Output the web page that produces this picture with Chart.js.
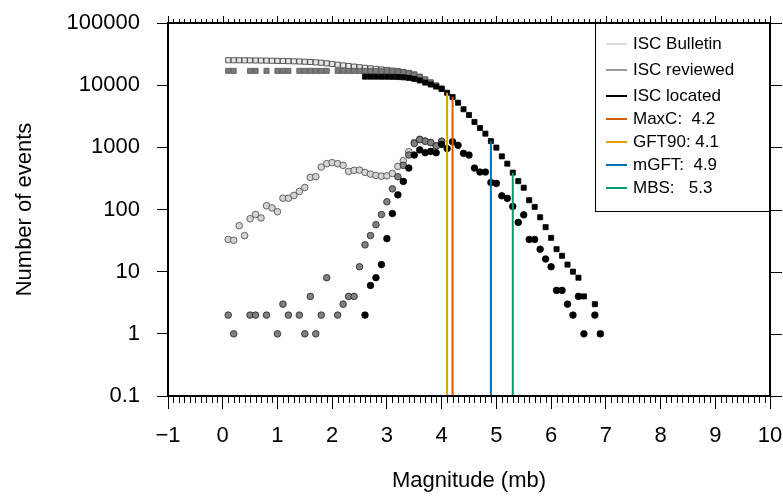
<!DOCTYPE HTML>
<html lang="en">
<head>
    <meta charset="UTF-8">
    <title>Number of events vs magnitude</title>
    <style>
        body { margin: 0; padding: 0; background: #fff; }
        #chart-container { width: 783px; height: 496px; }
    </style>
</head>
<body>
    <div id="chart-container">
        <canvas id="chart"></canvas>
    </div>

    <script src="https://cdn.jsdelivr.net/npm/chart.js"></script>
    <script>
        // Magnitude bins (mb), 0.1 to 6.9
        const mags = [0.1, 0.2, 0.3, 0.4, 0.5, 0.6, 0.7, 0.8, 0.9, 1.0,
                      1.1, 1.2, 1.3, 1.4, 1.5, 1.6, 1.7, 1.8, 1.9, 2.0,
                      2.1, 2.2, 2.3, 2.4, 2.5, 2.6, 2.7, 2.8, 2.9, 3.0,
                      3.1, 3.2, 3.3, 3.4, 3.5, 3.6, 3.7, 3.8, 3.9, 4.0,
                      4.1, 4.2, 4.3, 4.4, 4.5, 4.6, 4.7, 4.8, 4.9, 5.0,
                      5.1, 5.2, 5.3, 5.4, 5.5, 5.6, 5.7, 5.8, 5.9, 6.0,
                      6.1, 6.2, 6.3, 6.4, 6.5, 6.6, 6.7, 6.8, 6.9];

        // Events per bin (circles). Above 4.0 Bulletin/reviewed coincide with located.
        const bulletinCount = [33, 32, 55, 38, 71, 83, 73, 115, 106, 92,
                               152, 152, 168, 195, 226, 328, 337, 482, 546, 567,
                               546, 513, 410, 426, 430, 395, 371, 353, 344, 348,
                               380, 494, 610, 851, 1200, 1350, 1270, 1200, 1060, 1250];
        const reviewedCount = [2, 1, null, null, 2, 2, null, 2, null, 1,
                               3, 2, null, 2, 1, 4, 1, 2, 8, null,
                               2, 3, 4, 4, 12, 27, 38, 57, 83, 133,
                               215, 337, 513, 751, 1150, 1330, 1250, 1190, 1050, 1250];
        const locatedCount = [null, null, null, null, null, null, null, null, null, null,
                              null, null, null, null, null, null, null, null, null, null,
                              null, null, null, null, null, 2, 6, 8, 13, 34,
                              86, 172, 283, 464, 751, 910, 820, 860, 820, 1116,
                              955, 1230, 1076, 800, 751, 464, 400, 400, 272, 263,
                              166, 151, 112, 62, 82, 33, 33, 23, 16, 12,
                              5, 5, 3, 2, 4, 1, null, 2, 1];

        // Cumulative counts N(>=M) (squares)
        const bulletinCum = [25200, 25170, 25140, 25080, 25040, 24970, 24890, 24820, 24700, 24600,
                             24500, 24350, 24200, 24030, 23840, 23610, 23280, 22940, 22460, 21920,
                             21350, 20800, 20290, 19880, 19450, 19020, 18620, 18250, 17900, 17560,
                             17210, 16830, 16340, 15730, 14880, 13680, 12330, 11060, 9860, 8800];
        const reviewedCum = [16988, 16986, null, null, 16985, 16983, null, 16981, null, 16979,
                             16978, 16975, null, 16973, 16971, 16970, 16966, 16965, 16963, null,
                             16953, 16951, 16948, 16944, 16940, 16925, 16900, 16860, 16800, 16720,
                             16590, 16370, 16030, 15520, 14770, 13620, 12290, 11040, 9850, 8800];
        const locatedCum = [null, null, null, null, null, null, null, null, null, null,
                            null, null, null, null, null, null, null, null, null, null,
                            null, null, null, null, null, 13700, 13700, 13690, 13680, 13660,
                            13620, 13530, 13360, 13080, 12620, 11900, 11000, 10250, 9500, 8700,
                            7550, 6450, 5220, 4100, 3310, 2560, 2050, 1660, 1260, 990,
                            716, 546, 392, 286, 224, 141, 110, 75, 52, 35,
                            23, 18, 13, 10, 8, 4, null, 3, 1];

        // Magnitude of completeness estimates
        const mcLabels = ['MaxC:  4.2', 'GFT90: 4.1', 'mGFT:  4.9', 'MBS:   5.3'];
        const mcValues = [4.2, 4.1, 4.9, 5.3];
        const mcTops = [6450, 7550, 1260, 392];
        const mcColors = ['#D55E00', '#E69F00', '#0072B2', '#009E73'];

        const seriesLabels = ['ISC Bulletin', 'ISC reviewed', 'ISC located'];
        const seriesColors = ['#dddddd', '#999999', '#000000'];

        const xTicks = [-1, 0, 1, 2, 3, 4, 5, 6, 7, 8, 9, 10];
        const yTicks = [0.1, 1, 10, 100, 1000, 10000, 100000];

        const FONT = '"Liberation Sans", Arial, Helvetica, sans-serif';

        function points(values) {
            const out = [];
            values.forEach((v, i) => { if (v !== null) out.push({ x: mags[i], y: v }); });
            return out;
        }

        function pointSet(values, style, fill, border, order) {
            return {
                data: points(values),
                showLine: false,
                pointStyle: style,
                pointRadius: style === 'rect' ? 3.6 : 3.3,
                pointBackgroundColor: fill,
                pointBorderColor: border,
                pointBorderWidth: 0.8,
                order: order
            };
        }

        const datasets = [];
        mcValues.forEach((m, i) => {
            datasets.push({
                label: mcLabels[i],
                data: [{ x: m, y: 0.1 }, { x: m, y: mcTops[i] }],
                showLine: true,
                borderColor: mcColors[i],
                borderWidth: 2,
                pointRadius: 0,
                order: 0
            });
        });
        datasets.push(pointSet(locatedCount, 'circle', '#000000', '#000000', 1));
        datasets.push(pointSet(locatedCum, 'rect', '#000000', '#000000', 1));
        datasets.push(pointSet(reviewedCount, 'circle', '#808080', '#222222', 2));
        datasets.push(pointSet(reviewedCum, 'rect', '#7a7a7a', '#555555', 2));
        datasets.push(pointSet(bulletinCount, 'circle', '#d4d4d4', '#444444', 3));
        datasets.push(pointSet(bulletinCum, 'rect', '#e6e6e6', '#333333', 3));

        // Frame, minor ticks and legend
        const framePlugin = {
            id: 'frame',
            afterDatasetsDraw(chart) {
                const { ctx, chartArea: a, scales: { x, y } } = chart;
                ctx.save();
                ctx.strokeStyle = '#000';
                ctx.lineWidth = 1;
                ctx.beginPath();
                for (let i = -10; i <= 100; i++) {
                    const px = Math.round(x.getPixelForValue(i / 10)) + 0.5;
                    const major = i % 10 === 0;
                    if (!major) {
                        ctx.moveTo(px, a.bottom);
                        ctx.lineTo(px, a.bottom + 7);
                    }
                    ctx.moveTo(px, a.top);
                    ctx.lineTo(px, a.top - (major ? 7 : 4));
                }
                yTicks.forEach(v => {
                    const py = Math.round(y.getPixelForValue(v)) + 0.5;
                    ctx.moveTo(a.right, py);
                    ctx.lineTo(a.right + 12, py);
                });
                ctx.stroke();

                // legend
                const lx = 595, ly = a.top, lw = a.right - lx, lh = 211 - a.top;
                ctx.fillStyle = '#fff';
                ctx.fillRect(lx, ly, lw, lh);
                ctx.lineWidth = 1;
                ctx.strokeRect(lx + 0.5, ly + 0.5, lw, lh);
                const names = seriesLabels.concat(mcLabels);
                const colors = seriesColors.concat(mcColors);
                const rows = [44, 70, 96, 119, 142, 165, 188];
                ctx.font = '17px ' + FONT;
                ctx.textBaseline = 'middle';
                ctx.textAlign = 'left';
                names.forEach((n, i) => {
                    ctx.strokeStyle = colors[i];
                    ctx.lineWidth = 2;
                    ctx.beginPath();
                    ctx.moveTo(606, rows[i]);
                    ctx.lineTo(627, rows[i]);
                    ctx.stroke();
                    ctx.fillStyle = '#000';
                    ctx.fillText(n, 633, rows[i]);
                });

                ctx.strokeStyle = '#000';
                ctx.lineWidth = 2;
                ctx.strokeRect(a.left, a.top, a.right - a.left, a.bottom - a.top);
                ctx.restore();
            }
        };

        new Chart(document.getElementById('chart'), {
            type: 'scatter',
            data: { datasets: datasets },
            options: {
                responsive: true,
                maintainAspectRatio: false,
                animation: false,
                layout: { padding: { top: 23, right: 13, left: 0, bottom: 0 } },
                plugins: { legend: { display: false }, tooltip: { enabled: false } },
                scales: {
                    x: {
                        type: 'linear',
                        min: -1,
                        max: 10,
                        afterBuildTicks: s => { s.ticks = xTicks.map(v => ({ value: v })); },
                        afterFit: s => { s.height = 100; s.paddingLeft = 0; s.paddingRight = 0; },
                        ticks: {
                            color: '#000',
                            font: { family: FONT, size: 22 },
                            padding: 14,
                            maxRotation: 0,
                            autoSkip: false,
                            callback: v => v < 0 ? '\u2212' + Math.abs(v) : String(v)
                        },
                        grid: { display: true, drawOnChartArea: false, tickLength: 13, color: '#000', lineWidth: 1 },
                        border: { display: false },
                        title: {
                            display: true,
                            text: 'Magnitude (mb)',
                            color: '#000',
                            font: { family: FONT, size: 22 },
                            padding: { top: 0, bottom: 2 }
                        }
                    },
                    y: {
                        type: 'logarithmic',
                        min: 0.1,
                        max: 100000,
                        afterBuildTicks: s => { s.ticks = yTicks.map(v => ({ value: v })); },
                        afterFit: s => { s.width = 168; s.paddingTop = 0; s.paddingBottom = 0; },
                        ticks: {
                            color: '#000',
                            font: { family: FONT, size: 22 },
                            padding: 17,
                            autoSkip: false,
                            callback: v => String(v)
                        },
                        grid: { display: true, drawOnChartArea: false, tickLength: 11, color: '#000', lineWidth: 1 },
                        border: { display: false },
                        title: {
                            display: true,
                            text: 'Number of events',
                            color: '#000',
                            font: { family: FONT, size: 22 },
                            padding: { top: 12, bottom: 0 }
                        }
                    }
                }
            },
            plugins: [framePlugin]
        });
    </script>
</body>
</html>
